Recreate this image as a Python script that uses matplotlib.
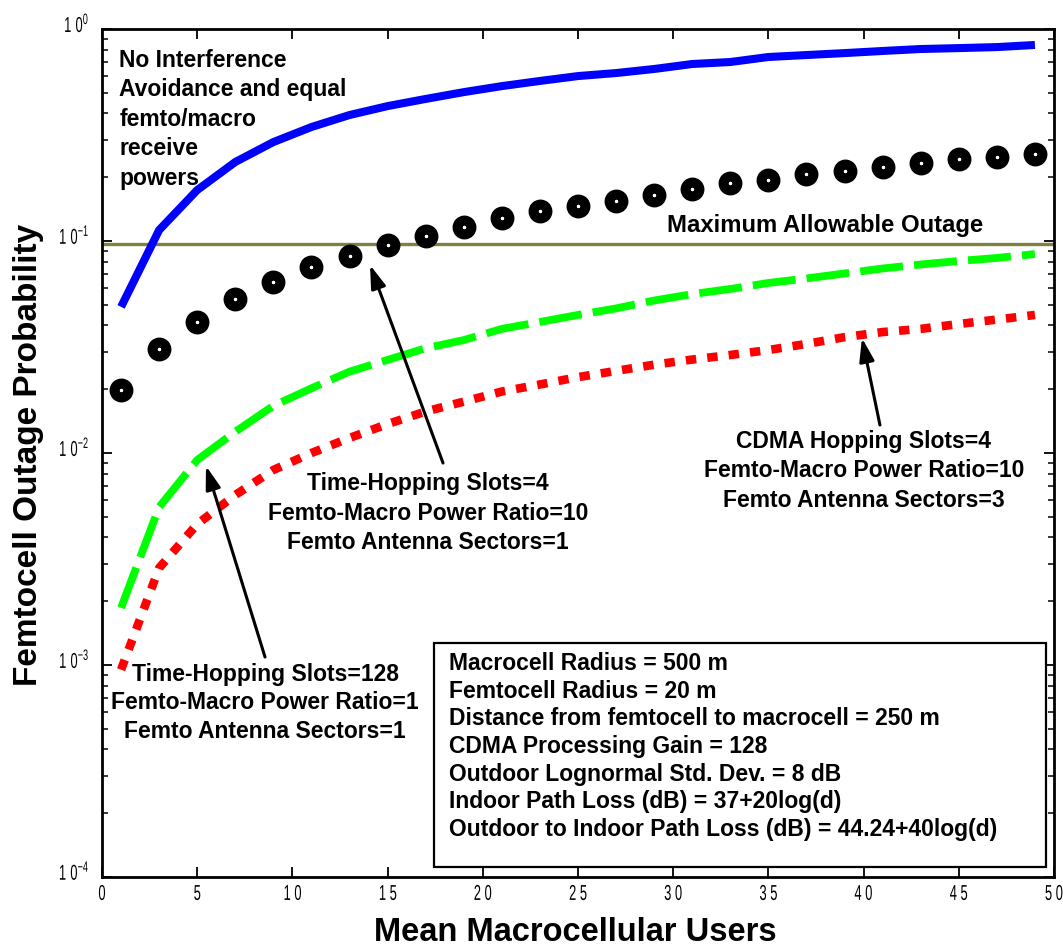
import matplotlib
matplotlib.use('Agg')
import matplotlib.pyplot as plt
from matplotlib.patches import Rectangle
from matplotlib.patheffects import AbstractPathEffect
from matplotlib.transforms import Affine2D, Bbox

plt.rcParams['font.family'] = ['Liberation Sans', 'DejaVu Sans']
plt.rcParams['lines.scale_dashes'] = False

# ---------------- data ----------------
users = [1, 3, 5, 7, 9, 11, 13, 15, 17, 19, 21, 23, 25,
         27, 29, 31, 33, 35, 37, 39, 41, 43, 45, 47, 49]

no_avoidance = [0.0489, 0.1127, 0.174, 0.236, 0.293, 0.345, 0.393, 0.433,
                0.468, 0.504, 0.538, 0.569, 0.600, 0.620, 0.648, 0.684,
                0.699, 0.738, 0.754, 0.770, 0.788, 0.805, 0.813, 0.822, 0.841]

th4_ratio10 = [0.0198, 0.031, 0.0415, 0.0532, 0.064, 0.0754, 0.085, 0.0958,
               0.1056, 0.1165, 0.128, 0.1385, 0.146, 0.154, 0.165, 0.176,
               0.188, 0.194, 0.207, 0.214, 0.2235, 0.233, 0.244, 0.249, 0.257]

th128_ratio1 = [0.00186, 0.00556, 0.00927, 0.0126, 0.0167, 0.0202, 0.0242,
                0.0275, 0.0312, 0.0341, 0.0385, 0.0415, 0.0448, 0.0481,
                0.0524, 0.0562, 0.0594, 0.0634, 0.0666, 0.0703, 0.0742,
                0.0775, 0.0805, 0.0832, 0.0868]

cdma4_sect3 = [0.00095, 0.00287, 0.00462, 0.00634, 0.00832, 0.0100, 0.01178,
               0.0137, 0.0157, 0.01747, 0.0195, 0.02105, 0.0228, 0.0244,
               0.0261, 0.0276, 0.029, 0.0306, 0.0327, 0.0352, 0.0372,
               0.0385, 0.0406, 0.0426, 0.0448]

max_allowable = 0.097

x_ticks = [0, 5, 10, 15, 20, 25, 30, 35, 40, 45, 50]
x_tick_labels = ['0', '5', '1 0', '1 5', '2 0', '2 5', '3 0', '3 5', '4 0', '4 5', '5 0']
y_ticks = [1e-4, 1e-3, 1e-2, 1e-1, 1e0]
y_tick_labels = [r'$\mathregular{1\ 0^{-4}}$', r'$\mathregular{1\ 0^{-3}}$',
                 r'$\mathregular{1\ 0^{-2}}$', r'$\mathregular{1\ 0^{-1}}$',
                 r'$\mathregular{1\ 0^{0}}$']

params_text = ("Macrocell Radius = 500 m\n"
               "Femtocell Radius = 20 m\n"
               "Distance from femtocell to macrocell = 250 m\n"
               "CDMA Processing Gain = 128\n"
               "Outdoor Lognormal Std. Dev. = 8 dB\n"
               "Indoor Path Loss (dB) = 37+20log(d)\n"
               "Outdoor to Indoor Path Loss (dB) = 44.24+40log(d)")

SQ = 0.6  # horizontal condensing of the tick-label font


class Squeeze(AbstractPathEffect):
    """Horizontally condense text (like a narrow font), anchored at one side."""
    def __init__(self, sx, anchor='center', dy=0.0):
        super().__init__()
        self.sx = sx
        self.anchor = anchor
        self.dy = dy

    def draw_path(self, renderer, gc, tpath, affine, rgbFace=None):
        ext = tpath.get_extents()
        a = {'left': ext.x0, 'center': 0.5 * (ext.x0 + ext.x1),
             'right': ext.x1}[self.anchor]
        t = Affine2D().translate(-a, 0).scale(self.sx, 1).translate(a, 0)
        t = t + affine + Affine2D().translate(0, self.dy)
        renderer.draw_path(gc, tpath, t, rgbFace)


def squeeze_label(lab, sx, anchor, dy=0.0):
    """Apply the condensing effect and report the condensed extent."""
    lab.set_path_effects([Squeeze(sx, anchor, dy)])
    orig = lab.get_window_extent

    def extent(renderer=None, dpi=None, _orig=orig):
        bb = _orig(renderer, dpi)
        w = bb.width * sx
        if anchor == 'right':
            x0, x1 = bb.x1 - w, bb.x1
        else:
            cx = 0.5 * (bb.x0 + bb.x1)
            x0, x1 = cx - w / 2, cx + w / 2
        return Bbox([[x0, bb.y0 + dy], [x1, bb.y1 + dy]])
    lab.get_window_extent = extent


# ---------------- figure ----------------
fig = plt.figure(figsize=(10.63, 9.49), dpi=100)
ax = fig.add_axes([0.096, 0.0759, 0.8955, 0.8935])

ax.axhline(max_allowable, color='#80803f', lw=2.4, zorder=1)
ax.plot(users, no_avoidance, color='#0000ff', lw=5.8, zorder=2,
        solid_capstyle='butt')
ax.plot(users, th128_ratio1, color='#00ff00', lw=5.6, zorder=2,
        dashes=(31, 8), dash_capstyle='butt')
ax.plot(users, cdma4_sect3, color='#ff0000', lw=6.2, zorder=2,
        dashes=(7.5, 8), dash_capstyle='butt')
ax.plot(users, th4_ratio10, ls='none', marker='o', ms=10, mew=7.2,
        mfc='white', mec='black', zorder=3)

ax.set_yscale('log')
ax.set_xlim(0, 50)
ax.set_ylim(1e-4, 1)

ax.set_xticks(x_ticks)
ax.set_xticklabels(x_tick_labels, fontsize=15.5)
ax.set_yticks(y_ticks)
ax.set_yticklabels(y_tick_labels, fontsize=15.5)
for lab in ax.get_xticklabels():
    squeeze_label(lab, SQ, 'center')
for lab in ax.get_yticklabels():
    squeeze_label(lab, SQ, 'right', dy=6)
ax.tick_params(axis='both', which='major', direction='in', length=7,
               width=1.3, top=True, right=True, pad=5)
ax.tick_params(axis='y', which='minor', direction='in', length=4,
               width=1.1, left=True, right=True)
ax.tick_params(axis='x', which='minor', bottom=False, top=False)
ax.tick_params(axis='y', which='major', pad=9)
for s in ax.spines.values():
    s.set_linewidth(2.0)

fig.text(0.027, 0.5205, 'Femtocell Outage Probability', rotation=90,
         ha='center', va='center', fontsize=24, fontweight='bold')
fig.text(0.541, 0.0179, 'Mean Macrocellular Users', ha='center',
         va='center', fontsize=23.5, fontweight='bold')

fs = 16.5
ax.text(0.018, 0.9769, 'No Interference\nAvoidance and equal\nfemto/macro\nreceive\npowers',
        transform=ax.transAxes, ha='left', va='top', fontsize=fs,
        fontweight='bold', linespacing=1.36, zorder=4)
ax.text(0.7595, 0.7683, 'Maximum Allowable Outage', transform=ax.transAxes,
        ha='center', va='center', fontsize=17.2, fontweight='bold')
ax.text(0.3424, 0.4292, 'Time-Hopping Slots=4\nFemto-Macro Power Ratio=10\nFemto Antenna Sectors=1',
        transform=ax.transAxes, ha='center', va='center', fontsize=fs,
        fontweight='bold', linespacing=1.35)
ax.text(0.1712, 0.2052, 'Time-Hopping Slots=128\nFemto-Macro Power Ratio=1\nFemto Antenna Sectors=1',
        transform=ax.transAxes, ha='center', va='center', fontsize=fs,
        fontweight='bold', linespacing=1.33)
ax.text(0.8004, 0.4788, 'CDMA Hopping Slots=4\nFemto-Macro Power Ratio=10\nFemto Antenna Sectors=3',
        transform=ax.transAxes, ha='center', va='center', fontsize=fs,
        fontweight='bold', linespacing=1.36)

arrow_kw = dict(arrowstyle='-|>,head_length=1.4,head_width=0.45',
                color='black', lw=2.2, shrinkA=0, shrinkB=0)
ax.annotate('', xy=(0.2815, 0.7217), xytext=(0.3582, 0.4882),
            xycoords='axes fraction', textcoords='axes fraction',
            arrowprops=arrow_kw, zorder=5)
ax.annotate('', xy=(0.1092, 0.4847), xytext=(0.1712, 0.2594),
            xycoords='axes fraction', textcoords='axes fraction',
            arrowprops=arrow_kw, zorder=5)
ax.annotate('', xy=(0.7983, 0.6356), xytext=(0.8172, 0.5330),
            xycoords='axes fraction', textcoords='axes fraction',
            arrowprops=arrow_kw, zorder=5)

ax.add_patch(Rectangle((0.3487, 0.0118), 0.6429, 0.2642, transform=ax.transAxes,
                       facecolor='white', edgecolor='black', lw=1.6, zorder=6))
ax.text(0.3645, 0.1539, params_text, transform=ax.transAxes, ha='left',
        va='center', fontsize=fs, fontweight='bold', linespacing=1.26, zorder=7)

fig.savefig('out.png', dpi=100)
